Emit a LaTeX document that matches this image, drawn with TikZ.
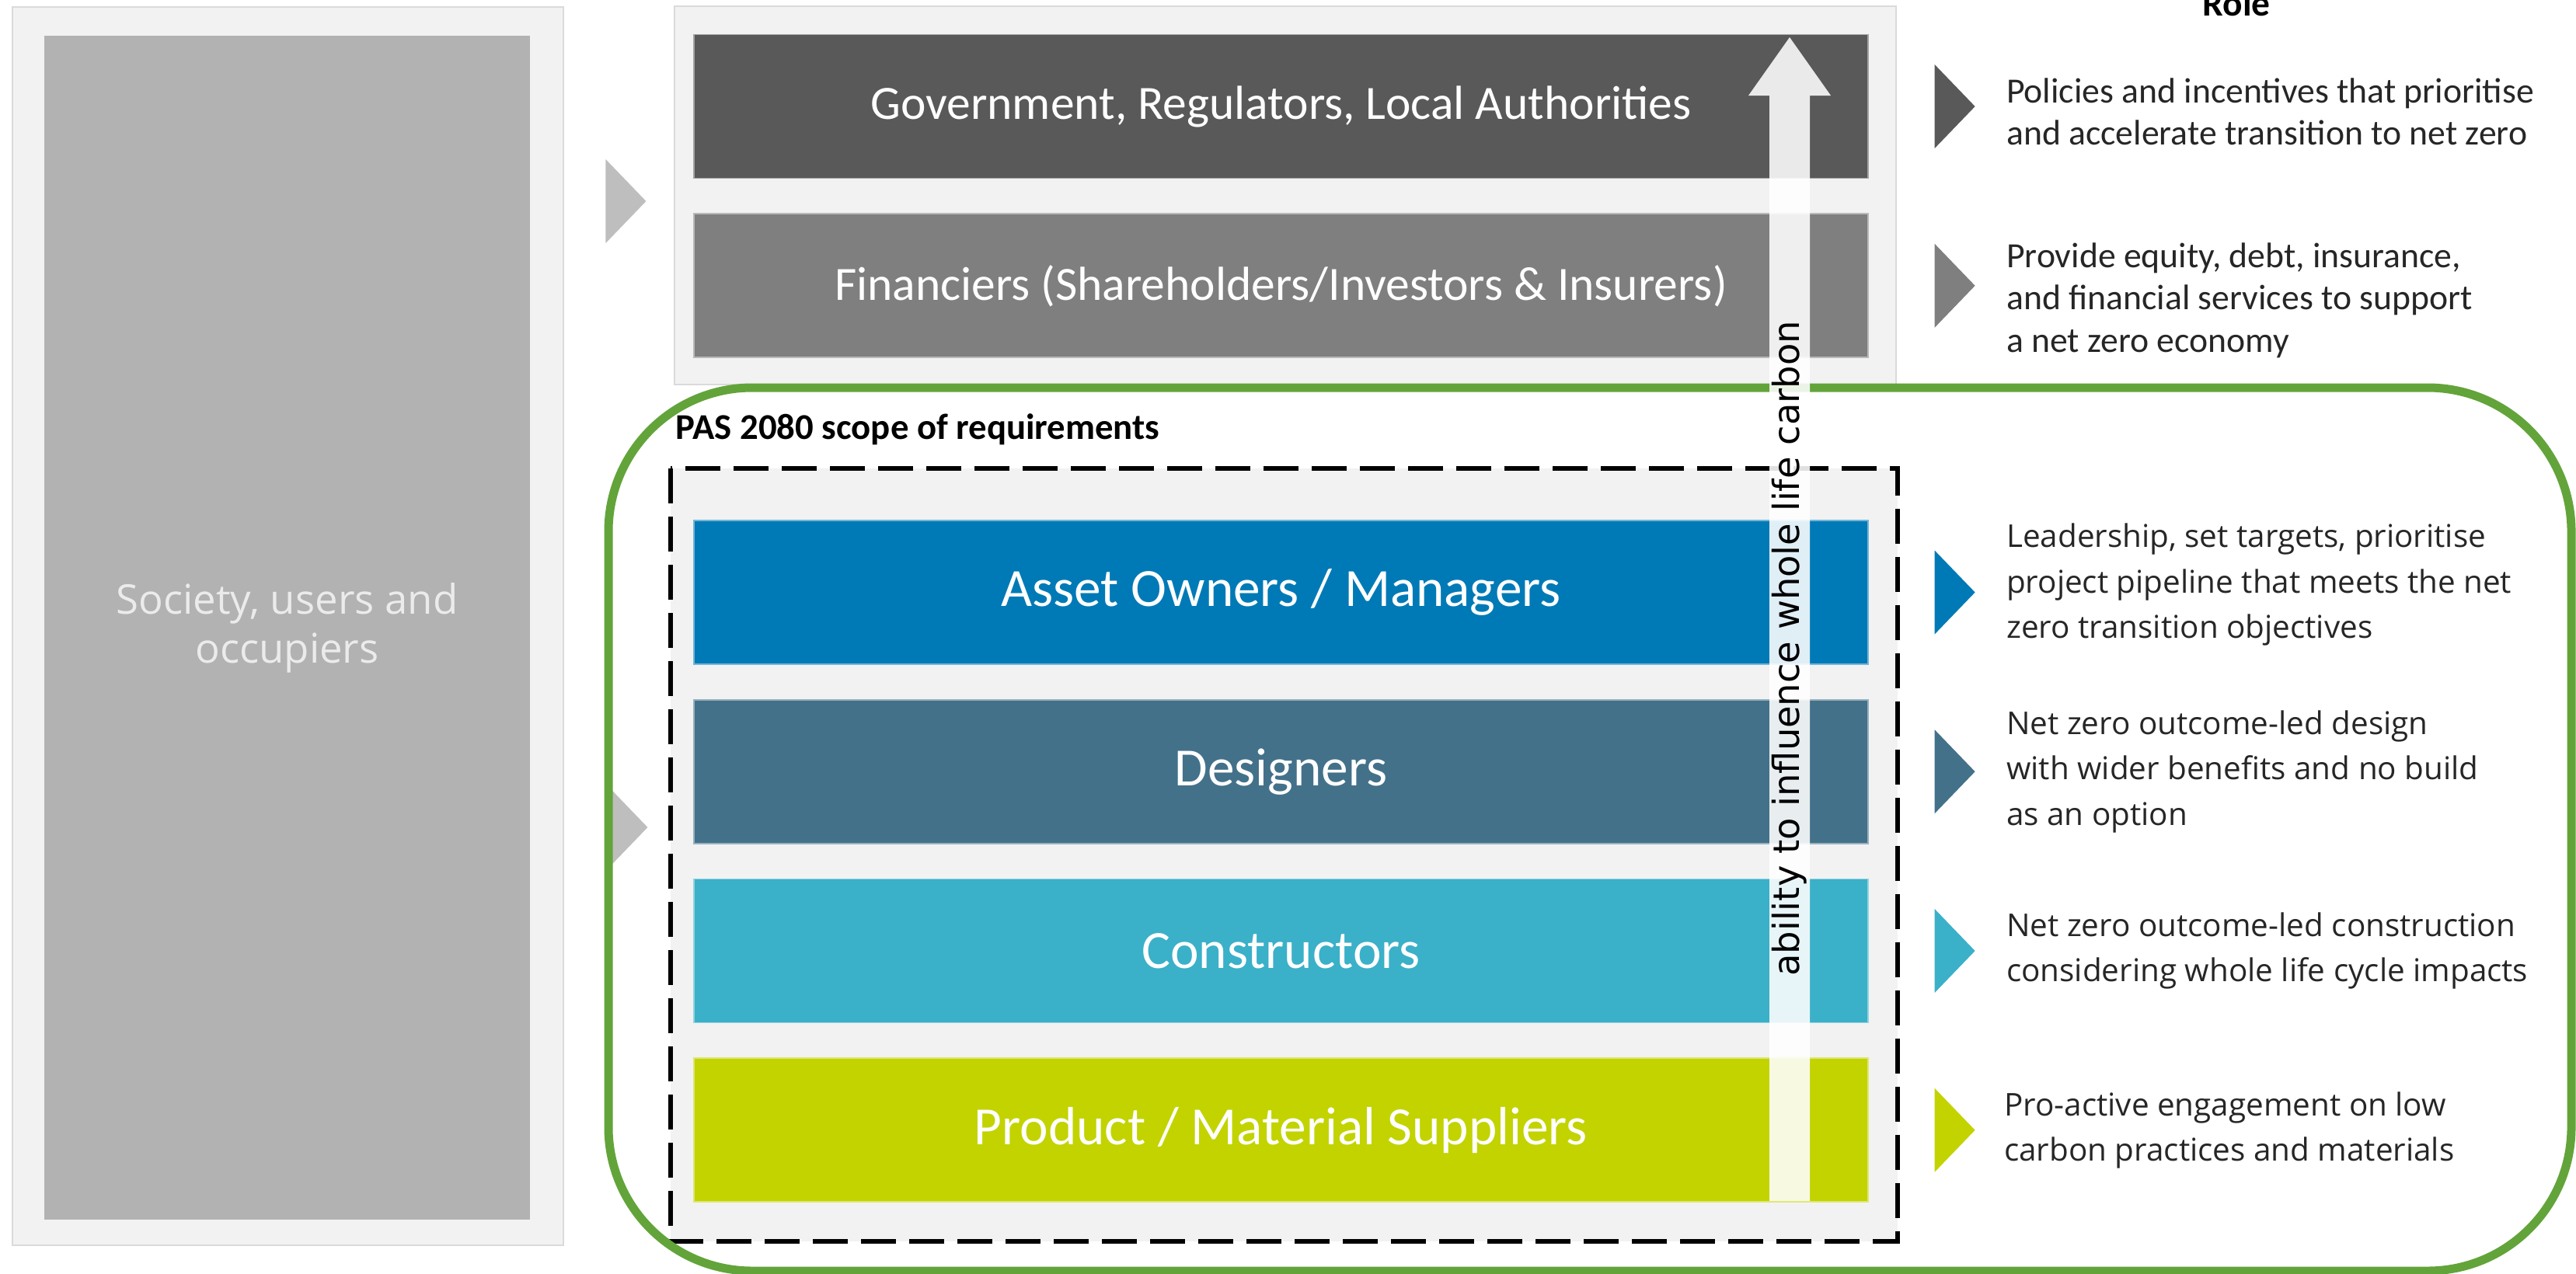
\documentclass[tikz,border=0pt]{standalone}
\usepackage{fontspec}
\setmainfont{Carlito}
\newfontfamily\opensans{Open Sans}
\newfontfamily\dejavu{DejaVu Sans}
\usepackage{tikz}
\usetikzlibrary{positioning,shapes.geometric}
\definecolor{panel}{HTML}{F2F2F2}
\definecolor{edge}{HTML}{DADADA}
\definecolor{society}{HTML}{B2B2B2}
\definecolor{govt}{HTML}{595959}
\definecolor{finance}{HTML}{7F7F7F}
\definecolor{owner}{HTML}{007AB6}
\definecolor{designer}{HTML}{43718A}
\definecolor{builder}{HTML}{3BB0C9}
\definecolor{supplier}{HTML}{C2D300}
\definecolor{scopegreen}{HTML}{62A43A}
\definecolor{ink}{HTML}{262626}

\begin{document}
\begin{tikzpicture}[node distance=0.44cm,
  bar/.style={fill=#1,draw=#1!55!white,line width=0.5pt,minimum width=15.11cm,minimum height=1.85cm,inner sep=0,
    text=white,font=\fontsize{19.7}{23}\selectfont},
  gbar/.style={bar=#1,font=\fontsize{17.5}{21}\selectfont},
  mk/.style={isosceles triangle,isosceles triangle stretches,fill=#1,draw=none,inner sep=0,
    minimum width=1.08cm,minimum height=0.52cm},
  role/.style={anchor=west,align=left,inner sep=0,text=ink,font=\fontsize{13}{15.4}\selectfont},
  orole/.style={role,font=\opensans\fontsize{11.5}{16.6}\selectfont}]
  \useasboundingbox (0,0) rectangle (33.15,-16.39);
  % society column
  \draw[fill=panel,draw=edge,line width=0.8pt] (0.16,-0.09) rectangle (7.25,-16.03);
  \node[fill=society,minimum width=6.25cm,minimum height=15.24cm,inner sep=0,align=center,
    text=white!92!black,font=\opensans\fontsize{15}{17.9}\selectfont] (soc) at (3.695,-8.08)
    {Society, users and\\occupiers};
  \node[mk=society!85!white,right=0.96cm of soc,yshift=5.49cm] (ms1) {};
  \node[mk=society!85!white,right=0.98cm of soc,yshift=-2.57cm] (ms2) {};
  % upper tier
  \draw[fill=panel,draw=edge,line width=0.8pt] (8.68,-0.08) rectangle (24.40,-4.95);
  \node[gbar=govt] (gov) at (16.485,-1.37) {Government, Regulators, Local Authorities};
  \node[gbar=finance,below=of gov] (fin) {Financiers (Shareholders/Investors \& Insurers)};
  % pas 2080 scope
  \node[anchor=base west,inner sep=0,font=\bfseries\fontsize{13.3}{16}\selectfont] (pas) at (8.69,-5.65)
    {PAS 2080 scope of requirements};
  \draw[fill=panel,line width=0.065cm,dash pattern=on 0.45cm off 0.17cm] (8.63,-6.03) rectangle (24.42,-15.98);
  \node[bar=owner] (own) at (16.485,-7.625) {Asset Owners / Managers};
  \node[bar=designer,below=of own] (des) {Designers};
  \node[bar=builder,below=of des] (con) {Constructors};
  \node[bar=supplier,below=of con] (sup) {Product / Material Suppliers};
  \draw[scopegreen,line width=0.11cm,rounded corners=1.85cm] (7.83,-4.99) rectangle (33.09,-16.36);
  % influence arrow
  \fill[white,opacity=0.88] (22.77,-15.46) -- (22.77,-1.23) -- (22.50,-1.23) -- (23.03,-0.48)
    -- (23.56,-1.23) -- (23.29,-1.23) -- (23.29,-15.46) -- cycle;
  \node[rotate=90,inner sep=0,font=\dejavu\fontsize{13.2}{16}\selectfont] (infl) at (23.03,-8.35)
    {ability to influence whole life carbon};
  % roles
  \node[anchor=base,font=\bfseries\fontsize{13.5}{16}\selectfont] (rolehd) at (28.78,-0.20) {Role};
  \node[mk=govt,right=0.84cm of gov] (mg) {};
  \node[mk=finance,right=0.84cm of fin] (mf) {};
  \node[mk=owner,right=0.84cm of own] (mo) {};
  \node[mk=designer,right=0.84cm of des] (md) {};
  \node[mk=builder,right=0.84cm of con] (mc) {};
  \node[mk=supplier,right=0.84cm of sup] (mp) {};
  \node[role,right=0.38cm of mg,yshift=-0.07cm] (rg) {Policies and incentives that prioritise\\and accelerate transition to net zero};
  \node[role,right=0.38cm of mf,yshift=-0.19cm] (rf) {Provide equity, debt, insurance,\\and financial services to support\\a net zero economy};
  \node[orole,right=0.38cm of mo,yshift=0.1cm] (ro) {Leadership, set targets, prioritise\\project pipeline that meets the net\\zero transition objectives};
  \node[orole,right=0.38cm of md] (rd) {Net zero outcome-led design\\with wider benefits and no build\\as an option};
  \node[orole,right=0.38cm of mc] (rc) {Net zero outcome-led construction\\considering whole life cycle impacts};
  \node[orole,right=0.35cm of mp] (rp) {Pro-active engagement on low\\carbon practices and materials};
\end{tikzpicture}
\end{document}
